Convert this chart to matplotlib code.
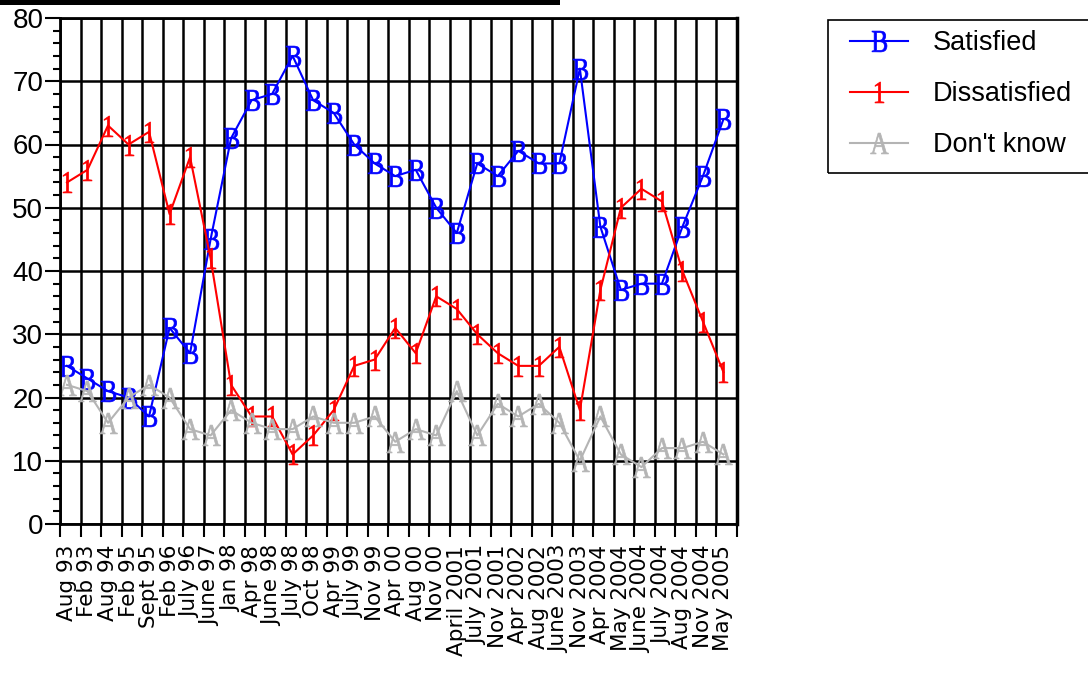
import matplotlib
matplotlib.use("Agg")  # no display
import matplotlib.pyplot as plt
from matplotlib.patches import Rectangle
from matplotlib.ticker import MultipleLocator
from matplotlib.textpath import TextPath
from matplotlib.font_manager import FontProperties
from matplotlib.transforms import Affine2D

plt.rcParams['font.family'] = ['Liberation Sans', 'DejaVu Sans']

DATES = ["Aug 93", "Feb 93", "Aug 94", "Feb 95", "Sept 95", "Feb 96", "July 96",
         "June 97", "Jan 98", "Apr 98", "June 98", "July 98", "Oct 98", "Apr 99",
         "July 99", "Nov 99", "Apr 00", "Aug 00", "Nov 00", "April 2001",
         "July 2001", "Nov 2001", "Apr 2002", "Aug 2002", "June 2003", "Nov 2003",
         "Apr 2004", "May 2004", "June 2004", "July 2004", "Aug 2004", "Nov 2004",
         "May 2005"]
SATISFIED = [25, 23, 21, 20, 17, 31, 27, 45, 61, 67, 68, 74, 67, 65, 60, 57, 55,
             56, 50, 46, 57, 55, 59, 57, 57, 72, 47, 37, 38, 38, 47, 55, 64]
DISSATISFIED = [54, 56, 63, 60, 62, 49, 58, 42, 22, 17, 17, 11, 14, 18, 25, 26, 31,
                27, 36, 34, 30, 27, 25, 25, 28, 18, 37, 50, 53, 51, 40, 32, 24]
DONT_KNOW = [22, 21, 16, 20, 22, 20, 15, 14, 18, 16, 15, 15, 17, 16, 16, 17, 13,
             15, 14, 21, 14, 19, 17, 19, 16, 10, 17, 11, 9, 12, 12, 13, 11]


def glyph_marker(ch):
    # serif letter used as a point marker, a bit narrower than the font draws it
    tp = TextPath((0, 0), ch, size=1, prop=FontProperties(family='Liberation Serif'))
    ext = tp.get_extents()
    t = Affine2D().translate(-(ext.x0 + ext.x1) / 2, -(ext.y0 + ext.y1) / 2).scale(0.8, 1)
    return t.transform_path(tp)


SERIES = [("Satisfied", SATISFIED, "#0000ff", "B"),
          ("Dissatisfied", DISSATISFIED, "#ff0000", "1"),
          ("Don't know", DONT_KNOW, "#b4b4b4", "A")]

W, H = 1088, 675
fig = plt.figure(figsize=(W / 100, H / 100), dpi=100)
ax = fig.add_axes([60 / W, 151 / H, 677 / W, 506 / H])

x = list(range(len(DATES)))
offset = 0.34  # points sit about a third into each grid cell

for name, vals, color, letter in SERIES:
    ax.plot(x, vals, color=color, lw=1.5, marker=glyph_marker(letter),
            markersize=15, markeredgewidth=0.5, label=name)

ax.set_xlim(-offset, len(DATES) - offset)
ax.set_ylim(0, 80)

# cell edges carry the grid and tick marks, labels sit at the points
ax.set_xticks([i - offset for i in range(len(DATES) + 1)])
ax.set_xticklabels([])
ax.set_xticks(x, minor=True)
ax.set_xticklabels(DATES, minor=True, rotation=90, fontsize=15.5,
                   family=['DejaVu Sans'])
ax.tick_params(axis='x', which='major', length=9.5, width=1.5, direction='out')
ax.tick_params(axis='x', which='minor', length=0, pad=15)

ax.yaxis.set_major_locator(MultipleLocator(10))
ax.yaxis.set_minor_locator(MultipleLocator(2))
ax.tick_params(axis='y', which='major', length=11, width=1.5, labelsize=20, pad=1)
ax.tick_params(axis='y', which='minor', length=5, width=1.5)

ax.set_axisbelow(True)
ax.grid(True, which='major', color='black', lw=1.8)
for side in ['left', 'bottom', 'top']:
    ax.spines[side].set_linewidth(2)
ax.spines['right'].set_linewidth(2.5)

ax.legend(loc='upper left', bbox_to_anchor=(850 / W, 1 - 30 / H),
          bbox_transform=fig.transFigure, frameon=False, fontsize=19.5,
          handlelength=2.15, handletextpad=0.9, labelspacing=0.93,
          borderpad=0, borderaxespad=0)
fig.add_artist(Rectangle((828 / W, 1 - 173 / H), (1100 - 828) / W, 153 / H,
                         transform=fig.transFigure, fill=False, lw=1.2,
                         ec='black', clip_on=False))

# black bar along the top edge
fig.add_artist(Rectangle((0, 1 - 5 / H), 560 / W, 5 / H, fc='black', ec='none',
                         transform=fig.transFigure))

fig.savefig('out.png', dpi=100)
plt.close(fig)
